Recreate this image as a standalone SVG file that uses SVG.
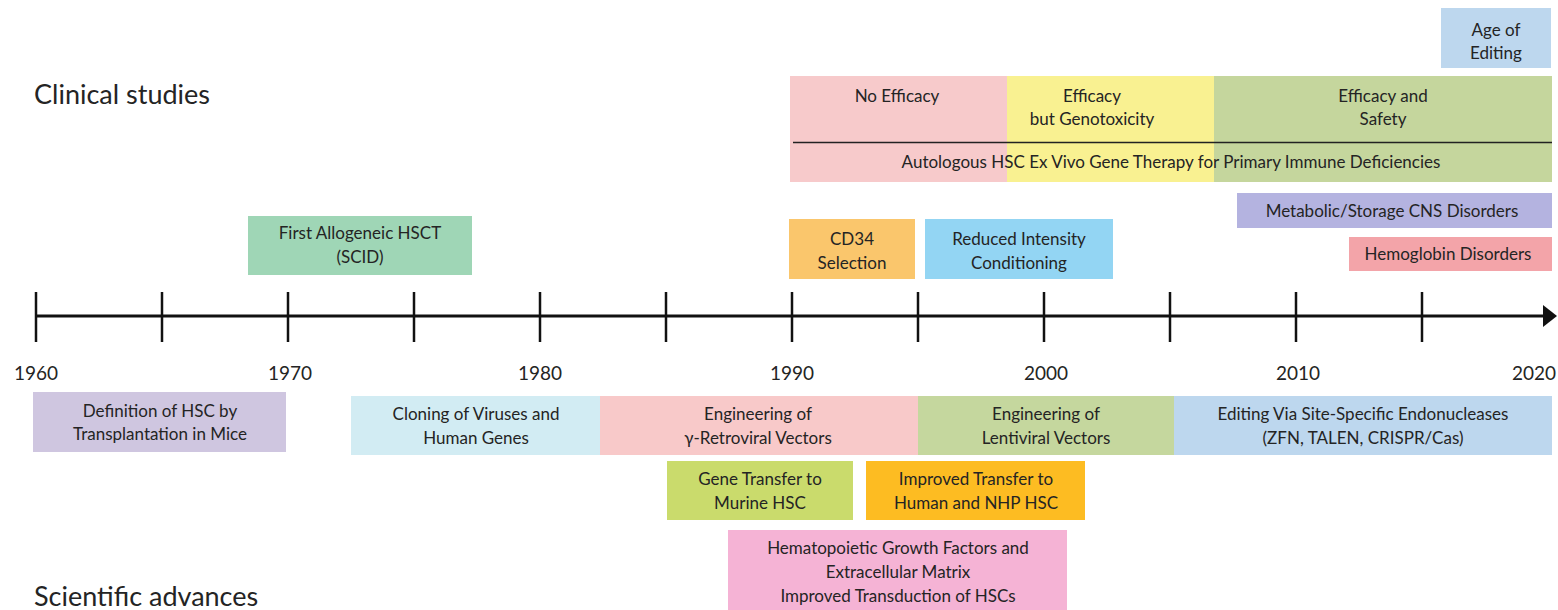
<svg xmlns="http://www.w3.org/2000/svg" width="1558" height="610" viewBox="0 0 1558 610">
<style>
text{font-family:Lato,"Liberation Sans",sans-serif;fill:#242424;}
.t{font-size:17px;text-anchor:middle;}
.h{font-size:27px;}
.y{font-size:19px;text-anchor:middle;}
.ax{stroke:#111;stroke-width:3;fill:none;}
.tk{stroke:#111;stroke-width:2.5;}
</style>
<rect width="1558" height="610" fill="#fff"/>
<text class="h" x="34" y="104">Clinical studies</text>
<text class="h" x="34" y="606">Scientific advances</text>

<g id="age-of-editing">
<rect x="1441" y="8" width="110" height="60" fill="#BDD7EE"/>
<text class="t" x="1496" y="36">Age of</text>
<text class="t" x="1496" y="59">Editing</text>
</g>

<g id="band-no-efficacy">
<rect x="790" y="76" width="217" height="106" fill="#F7CACB"/>
<text class="t" x="897" y="102">No Efficacy</text>
</g>
<g id="band-genotoxicity">
<rect x="1007" y="76" width="207" height="106" fill="#F9F191"/>
<text class="t" x="1092" y="102">Efficacy</text>
<text class="t" x="1092" y="125">but Genotoxicity</text>
</g>
<g id="band-safety">
<rect x="1214" y="76" width="338" height="106" fill="#C5D69D"/>
<text class="t" x="1383" y="102">Efficacy and</text>
<text class="t" x="1383" y="125">Safety</text>
</g>
<g id="autologous">
<line x1="793" y1="142.5" x2="1552" y2="142.5" stroke="#222" stroke-width="1.5"/>
<text class="t" x="1171" y="168">Autologous HSC Ex Vivo Gene Therapy for Primary Immune Deficiencies</text>
</g>

<g id="metabolic">
<rect x="1237" y="193" width="315" height="35" fill="#B4B3E0"/>
<text class="t" x="1392" y="217">Metabolic/Storage CNS Disorders</text>
</g>
<g id="hemoglobin">
<rect x="1349" y="237" width="203" height="34" fill="#F3A4A9"/>
<text class="t" x="1448" y="260">Hemoglobin Disorders</text>
</g>

<g id="first-allogeneic">
<rect x="248" y="216" width="224" height="59" fill="#9FD6B6"/>
<text class="t" x="360" y="239">First Allogeneic HSCT</text>
<text class="t" x="360" y="263">(SCID)</text>
</g>
<g id="cd34">
<rect x="789" y="219" width="126" height="60" fill="#FAC66C"/>
<text class="t" x="852" y="245">CD34</text>
<text class="t" x="852" y="269">Selection</text>
</g>
<g id="reduced-intensity">
<rect x="925" y="219" width="188" height="60" fill="#93D5F3"/>
<text class="t" x="1019" y="245">Reduced Intensity</text>
<text class="t" x="1019" y="269">Conditioning</text>
</g>

<g id="connectors">
<line class="ax" x1="36" y1="316" x2="1546" y2="316"/>
<polygon points="1543,305 1557,316 1543,327" fill="#111"/>
<line class="tk" x1="36" y1="292" x2="36" y2="342"/>
<line class="tk" x1="162" y1="292" x2="162" y2="342"/>
<line class="tk" x1="288" y1="292" x2="288" y2="342"/>
<line class="tk" x1="414" y1="292" x2="414" y2="342"/>
<line class="tk" x1="540" y1="292" x2="540" y2="342"/>
<line class="tk" x1="666" y1="292" x2="666" y2="342"/>
<line class="tk" x1="792" y1="292" x2="792" y2="342"/>
<line class="tk" x1="918" y1="292" x2="918" y2="342"/>
<line class="tk" x1="1044" y1="292" x2="1044" y2="342"/>
<line class="tk" x1="1170" y1="292" x2="1170" y2="342"/>
<line class="tk" x1="1296" y1="292" x2="1296" y2="342"/>
<line class="tk" x1="1422" y1="292" x2="1422" y2="342"/>
</g>
<g id="years">
<text class="y" x="36" y="380">1960</text>
<text class="y" x="290" y="380">1970</text>
<text class="y" x="540" y="380">1980</text>
<text class="y" x="792" y="380">1990</text>
<text class="y" x="1046" y="380">2000</text>
<text class="y" x="1298" y="380">2010</text>
<text class="y" x="1534" y="380">2020</text>
</g>

<g id="definition-hsc">
<rect x="33" y="392" width="253" height="60" fill="#CFC6E0"/>
<text class="t" x="160" y="417">Definition of HSC by</text>
<text class="t" x="160" y="440">Transplantation in Mice</text>
</g>
<g id="cloning">
<rect x="351" y="396" width="249" height="59" fill="#D2ECF3"/>
<text class="t" x="476" y="420">Cloning of Viruses and</text>
<text class="t" x="476" y="444">Human Genes</text>
</g>
<g id="retroviral">
<rect x="600" y="396" width="318" height="59" fill="#F8C9C9"/>
<text class="t" x="758" y="420">Engineering of</text>
<text class="t" x="758" y="444">γ-Retroviral Vectors</text>
</g>
<g id="lentiviral">
<rect x="918" y="396" width="256" height="59" fill="#C5D79E"/>
<text class="t" x="1046" y="420">Engineering of</text>
<text class="t" x="1046" y="444">Lentiviral Vectors</text>
</g>
<g id="editing">
<rect x="1174" y="396" width="378" height="59" fill="#BDD7EE"/>
<text class="t" x="1363" y="420">Editing Via Site-Specific Endonucleases</text>
<text class="t" x="1363" y="444">(ZFN, TALEN, CRISPR/Cas)</text>
</g>
<g id="gene-transfer">
<rect x="667" y="461" width="186" height="59" fill="#CADB6C"/>
<text class="t" x="760" y="485">Gene Transfer to</text>
<text class="t" x="760" y="509">Murine HSC</text>
</g>
<g id="improved-transfer">
<rect x="866" y="461" width="219" height="59" fill="#FDBC22"/>
<text class="t" x="976" y="485">Improved Transfer to</text>
<text class="t" x="976" y="509">Human and NHP HSC</text>
</g>
<g id="hematopoietic">
<rect x="728" y="530" width="339" height="80" fill="#F5B3D5"/>
<text class="t" x="898" y="554">Hematopoietic Growth Factors and</text>
<text class="t" x="898" y="578">Extracellular Matrix</text>
<text class="t" x="898" y="602">Improved Transduction of HSCs</text>
</g>
</svg>
